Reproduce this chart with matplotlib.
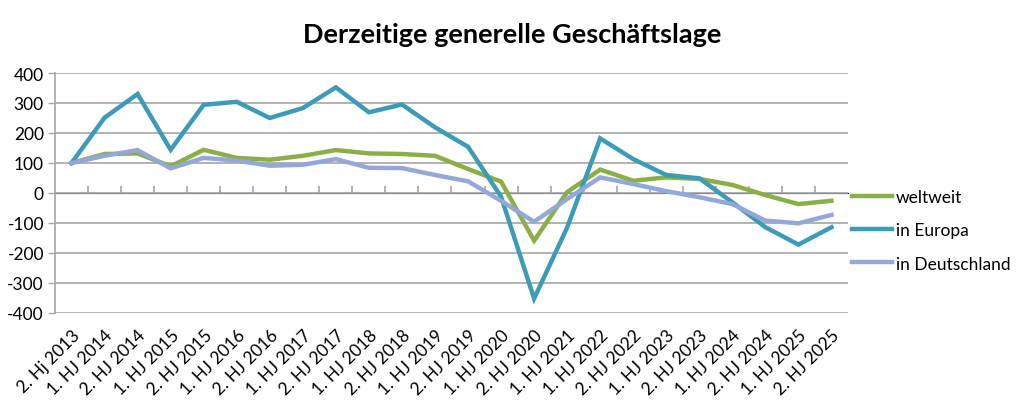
import matplotlib
matplotlib.use("Agg")
import matplotlib.pyplot as plt
import numpy as np

categories = ["2. Hj 2013", "1. HJ 2014", "2. HJ 2014", "1. HJ 2015", "2. HJ 2015",
              "1. HJ 2016", "2. HJ 2016", "1. HJ 2017", "2. HJ 2017", "1. HJ 2018",
              "2. HJ 2018", "1. HJ 2019", "2. HJ 2019", "1. HJ 2020", "2. HJ 2020",
              "1. HJ 2021", "1. HJ 2022", "2. HJ 2022", "1. HJ 2023", "2. HJ 2023",
              "1. HJ 2024", "2. HJ 2024", "1. HJ 2025", "2. HJ 2025"]
weltweit = [100, 130, 132, 89, 144, 117, 111, 124, 143, 132, 130, 124, 80, 38, -159,
            3, 78, 41, 52, 47, 27, -7, -37, -26]
europa = [100, 251, 330, 144, 294, 304, 250, 283, 352, 269, 295, 219, 154, -12, -352,
          -115, 182, 113, 60, 49, -31, -114, -172, -114]
deutschland = [100, 124, 143, 82, 117, 108, 91, 94, 113, 84, 83, 60, 39, -26, -96,
               -20, 52, 30, 6, -14, -37, -92, -101, -73]
series_names = ["weltweit", "in Europa", "in Deutschland"]
title = "Derzeitige generelle Geschäftslage"
yticks = list(range(-400, 401, 100))

colors = ["#8AAE48", "#3C9BB6", "#93A8D7"]
grid_col = "#A6A6A6"

plt.rcParams['font.family'] = ['Lato', 'DejaVu Sans']

fig = plt.figure(figsize=(10.24, 4.10), dpi=100)
ax = fig.add_axes([55/1024, 1-314/410, (848-55)/1024, (314-74)/410])

x = np.arange(len(categories))
for vals, name, c in zip([weltweit, europa, deutschland], series_names, colors):
    ax.plot(x, vals, color=c, lw=3.2, label=name, solid_joinstyle='miter', zorder=3)

ax.set_xlim(-0.5, len(categories) - 0.5)
ax.set_ylim(-400, 400)
ax.set_yticks(yticks)
ax.set_yticklabels([str(v) for v in yticks], fontsize=12.5)
ax.yaxis.grid(True, color=grid_col, lw=1.2)
ax.set_axisbelow(True)
ax.tick_params(axis='y', length=5, color=grid_col, width=1, pad=3)

ax.set_xticks(x)
ax.set_xticklabels(categories, rotation=45, ha='right', rotation_mode='anchor', fontsize=12.5)
ax.tick_params(axis='x', length=0, pad=10)

for s in ['top', 'right', 'bottom']:
    ax.spines[s].set_visible(False)
ax.spines['left'].set_color(grid_col)
ax.spines['left'].set_linewidth(1.2)

# category axis line at zero with boundary tick marks
sec = ax.secondary_xaxis(0.5)
sec.set_xticks(np.arange(0.5, len(categories) - 0.5, 1.0))
sec.set_xticklabels([])
sec.tick_params(length=5, color=grid_col, width=1.2)
sec.spines['bottom'].set_color(grid_col)
sec.spines['bottom'].set_linewidth(1.2)

fig.text(512/1024, 1-35/410, title, ha='center', va='center', fontsize=19.5, fontweight='bold')

leg = ax.legend(loc='center left', bbox_to_anchor=(1.0, 0.345), frameon=False,
                fontsize=12.5, handlelength=2.3, handletextpad=0.2, labelspacing=1.0,
                borderaxespad=0.25, borderpad=0.0)

fig.savefig("out.png", dpi=100)
